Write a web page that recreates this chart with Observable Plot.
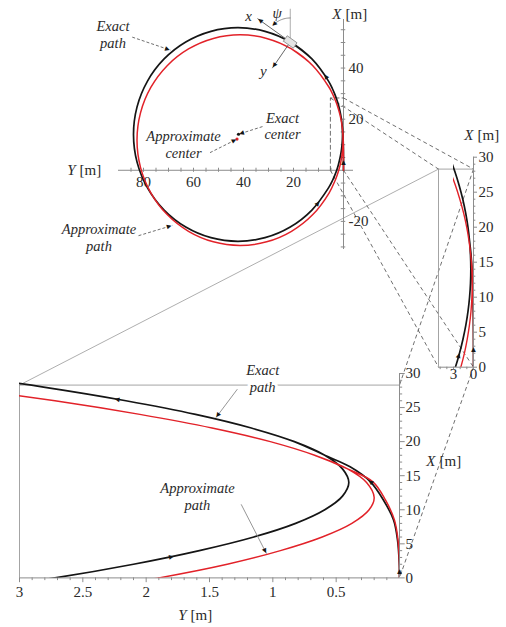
<!DOCTYPE html>
<html>
<head>
<meta charset="utf-8">
<script src="https://cdn.jsdelivr.net/npm/d3@7"></script>
<script src="https://cdn.jsdelivr.net/npm/@observablehq/plot@0.6"></script>
<style>
  body { margin: 0; background: #fff; }
  #fig { position: relative; width: 506px; height: 627px; overflow: hidden; background: #fff; }
  #fig svg { position: absolute; left: 0; top: 0; }
  #fig svg text { font-family: "Liberation Serif", "Times New Roman", "DejaVu Sans", serif; }
</style>
</head>
<body>
<div id="fig"></div>
<script>
// Vehicle trajectories as [Y (m), X (m)] pairs.
// The first lap starts at the origin heading along +X, then the path settles on a circle.
const exactPath = [
  [0, 0], [0.002, 2.2], [0.016, 5.6], [0.047, 8.5], [0.126, 11.4], [0.229, 14.1], [0.39, 16.3], [0.59, 18],
  [0.83, 20], [1.17, 22], [1.61, 24], [2.16, 26], [2.81, 28], [3.58, 30], [4.47, 32], [6.0, 34.9],
  [12.64, 43.56], [21.3, 50.2], [31.38, 54.38], [42.2, 55.8], [53.02, 54.38], [63.1, 50.2], [71.76, 43.56],
  [78.4, 34.9], [82.58, 24.82], [84.0, 14], [82.58, 3.18], [78.4, -6.9], [71.76, -15.56], [63.1, -22.2],
  [53.02, -26.38], [42.2, -27.8], [31.38, -26.38], [21.3, -22.2], [12.64, -15.56], [6.0, -6.9],
  [4.4, -4], [3.5, -2], [2.72, 0], [2.1, 2], [1.58, 4], [1.15, 6], [0.82, 8], [0.59, 10], [0.45, 12],
  [0.40, 14], [0.45, 16], [0.59, 18], [0.83, 20], [1.17, 22], [1.61, 24], [2.16, 26], [2.81, 28],
  [3.58, 30], [4.47, 32], [6.0, 34.9], [12.64, 43.56], [21.3, 50.2]
];
const approxPath = [
  [0, 0], [0.001, 2.2], [0.012, 5.6], [0.04, 8.5], [0.11, 11.4], [0.21, 14.1], [0.41, 16], [0.67, 18],
  [1.02, 20], [1.48, 22], [2.05, 24], [2.72, 26], [3.52, 28], [4.44, 30], [5.72, 32.4], [12.27, 40.93],
  [20.8, 47.48], [30.74, 51.6], [41.4, 53.0], [52.06, 51.6], [62.0, 47.48], [70.53, 40.93], [77.08, 32.4],
  [81.2, 22.46], [82.6, 11.8], [81.2, 1.14], [77.08, -8.8], [70.53, -17.33], [62.0, -23.88], [52.06, -28.0],
  [41.4, -29.4], [30.74, -28.0], [20.8, -23.88], [12.27, -17.33], [5.72, -8.8], [3.35, -4], [2.58, -2],
  [1.9, 0], [1.36, 2], [0.94, 4], [0.61, 6], [0.376, 8], [0.24, 10], [0.2, 11.8], [0.26, 14], [0.41, 16],
  [0.67, 18], [1.02, 20], [1.48, 22], [2.05, 24], [2.72, 26], [3.52, 28], [4.44, 30], [5.72, 32.4],
  [12.27, 40.93], [20.8, 47.48]
];
const exactCenter = [42.0, 14.1];
const approxCenter = [42.6, 12.2];

// Vehicle pose at the end of the exact path: position (Y, X) and heading psi (deg from +X toward +Y)
const vehiclePose = [21.3, 50.2, 55];

// Direction-of-travel markers: [Y, X, heading deg]
const topArrows = [[7.14, 36.77, 33], [10.18, -12.87, 320], [0.005, 3, 0]];
const sideArrows = [[0.003, 2.6, 0], [2.22, 1.7, 343]];
const zoomArrows = [[0.0, 0.9, 0], [0.229, 14.1, 4], [2.23, 26.2, 17], [1.8, 3.1, 345]];

// Enlarged window around the start of the run (m)
const windowY = [0, 5.25];
const windowX = [0, 28.3];
const zoomYLimit = 3;

// Tick labels
const topYTicks = [80, 60, 40, 20];
const topXTicks = [40, 20, -20];
const sideXTicks = [0, 5, 10, 15, 20, 25, 30];
const sideYTicks = [3, 0];
const zoomXTicks = [0, 5, 10, 15, 20, 25, 30];
const zoomYTicks = [3, 2.5, 2, 1.5, 1, 0.5];

// ---------------------------------------------------------------------------
const W = 506, H = 627;
const serif = "Liberation Serif";
const INK = "#151515", RED = "#e22229", AXIS = "#8c8c8c", FRAME = "#9a9a9a", GUIDE = "#4a4a4a", TXT = "#2a2a2a";

const layout = {
  top:  {ml: 118, mr: 153, mt: 19, mb: 378, x: [90, -4], y: [-31, 59]},
  side: {ml: 453, mr: 33, mt: 156.7, mb: 260.3, x: [3, 0], y: [0, 30]},
  zoom: {ml: 19, mr: 107, mt: 373, mb: 49.6, x: [3, 0], y: [0, 30]}
};

function scalesOf(p) {
  return {
    sx: Plot.scale({x: {domain: p.x, range: [p.ml, W - p.mr]}}),
    sy: Plot.scale({y: {domain: p.y, range: [H - p.mb, p.mt]}})
  };
}
const rows = (path) => path.map(([Y, X]) => ({Y, X}));

// Filled arrowheads for travel direction
function dirHeads(list, p) {
  const {sx, sy} = scalesOf(p);
  return list.map(([Y, X, h]) => {
    const r = h * Math.PI / 180, e = 0.01;
    const dx = sx.apply(Y + e * Math.sin(r)) - sx.apply(Y);
    const dy = sy.apply(X + e * Math.cos(r)) - sy.apply(X);
    return {Y, X, rot: Math.atan2(dx, -dy) * 180 / Math.PI};
  });
}
// Arrowhead placed just behind the tip of a leader line
function tipHead(from, to, p, back = 3) {
  const {sx, sy} = scalesOf(p);
  const x1 = sx.apply(from[0]), y1 = sy.apply(from[1]);
  const x2 = sx.apply(to[0]), y2 = sy.apply(to[1]);
  const len = Math.hypot(x2 - x1, y2 - y1);
  const ux = (x2 - x1) / len, uy = (y2 - y1) / len;
  return {Y: sx.invert(x2 - ux * back), X: sy.invert(y2 - uy * back), rot: Math.atan2(ux, -uy) * 180 / Math.PI};
}
const headMark = (data, fill = INK, size = 8) =>
  Plot.text(data, {x: "Y", y: "X", text: () => "\u25B2", rotate: "rot", fontSize: size,
    fontFamily: "DejaVu Sans", fill, lineAnchor: "middle"});

// Axis title: italic variable letter, a small gap at the anchor, then the unit
function axisTitle(letter, at) {
  const base = {x: () => at[0], y: () => at[1], fontSize: 15, fontFamily: serif, fill: TXT};
  return [
    Plot.text([0], {...base, text: () => letter, fontStyle: "italic", textAnchor: "end", dx: -2}),
    Plot.text([0], {...base, text: () => "[m]", textAnchor: "start", dx: 2})
  ];
}
function note(text, at, opts = {}) {
  return Plot.text([0], {x: () => at[0], y: () => at[1], text: () => text, fontSize: 14.5,
    fontFamily: serif, fontStyle: "italic", fill: TXT, lineHeight: 1.15, lineAnchor: "middle", ...opts});
}
const tickText = (data, opts) => Plot.text(data, {text: d => String(d), fontSize: 15, fontFamily: serif, fill: TXT, ...opts});

const fig = document.getElementById("fig");
function mount(p, marks) {
  const svg = Plot.plot({
    width: W, height: H,
    marginLeft: p.ml, marginRight: p.mr, marginTop: p.mt, marginBottom: p.mb,
    x: {domain: p.x, axis: null}, y: {domain: p.y, axis: null},
    style: {background: "transparent", overflow: "visible"},
    marks
  });
  fig.appendChild(svg);
  return svg;
}

// ---------------- Full circular run ----------------
const T = layout.top;
{
  const [vY, vX, psiDeg] = vehiclePose;
  const psi = psiDeg * Math.PI / 180;
  const u = [Math.sin(psi), Math.cos(psi)];      // body x axis
  const v = [Math.cos(psi), -Math.sin(psi)];     // body y axis
  const at = (a, b) => [vY + a * u[0] + b * v[0], vX + a * u[1] + b * v[1]];
  const body = [at(2.4, 1.3), at(2.4, -1.3), at(-2.4, -1.3), at(-2.4, 1.3), at(2.4, 1.3)];
  const xTip = at(16, 0), yTip = at(0, 12.5);
  const arc = d3.range(0, psiDeg - 7, 3).map(a => [vY + 9.6 * Math.sin(a * Math.PI / 180), vX + 9.4 * Math.cos(a * Math.PI / 180)]);
  const arcEnd = arc[arc.length - 1];
  const arcHead = tipHead(arc[arc.length - 2], arcEnd, T, 1);

  const leaders = [
    {from: [84.5, 52.1], to: [69.2, 47.0]},
    {from: [53.4, 6.9], to: approxCenter},
    {from: [32.4, 17.1], to: exactCenter},
    {from: [82, -25.6], to: [68.5, -21.6]}
  ];
  const minor = d3.range(-30, 91, 5).filter(d => d !== 0);

  mount(T, [
    // crossing axes through the origin
    Plot.ruleY([0], {x1: 90, x2: -4, stroke: AXIS, strokeWidth: 1}),
    Plot.ruleX([0], {y1: -31, y2: 59, stroke: AXIS, strokeWidth: 1}),
    Plot.ruleX(minor.filter(d => d > -4 && d < 90), {x: d => d, y1: -0.8, y2: 0.8, stroke: AXIS}),
    Plot.ruleY(minor.filter(d => d > -31 && d < 59), {y: d => d, x1: 0.9, x2: -0.9, stroke: AXIS}),
    tickText(topYTicks, {x: d => d, y: 0, dy: 12}),
    tickText(topXTicks, {x: 0, y: d => d, dx: 5, textAnchor: "start"}),
    ...axisTitle("Y", [106.4, 0]),
    ...axisTitle("X", [0, 61]),

    // enlarged window outline
    Plot.line([[windowY[1], windowX[0]], [windowY[1], windowX[1]], [windowY[0], windowX[1]]],
      {x: d => d[0], y: d => d[1], stroke: GUIDE, strokeWidth: 0.8, strokeDasharray: "4,3"}),

    // paths
    Plot.line(rows(exactPath), {x: "Y", y: "X", curve: "catmull-rom", stroke: INK, strokeWidth: 1.7}),
    Plot.line(rows(approxPath), {x: "Y", y: "X", curve: "catmull-rom", stroke: RED, strokeWidth: 1.5}),
    headMark(dirHeads(topArrows, T)),

    // centres
    Plot.link(leaders, {x1: d => d.from[0], y1: d => d.from[1], x2: d => d.to[0], y2: d => d.to[1],
      stroke: GUIDE, strokeWidth: 0.8, strokeDasharray: "3,2"}),
    Plot.dot([exactCenter], {x: d => d[0], y: d => d[1], r: 1.6, fill: INK}),
    Plot.dot([approxCenter], {x: d => d[0], y: d => d[1], r: 1.6, fill: RED}),
    headMark(leaders.map(d => tipHead(d.from, d.to, T, 3))),

    // vehicle with body axes
    Plot.link([[vY, vX, vY, vX + 13]], {x1: d => d[0], y1: d => d[1], x2: d => d[2], y2: d => d[3], stroke: "#999", strokeWidth: 0.8}),
    Plot.link([[vY, vX, xTip[0], xTip[1]], [vY, vX, yTip[0], yTip[1]]],
      {x1: d => d[0], y1: d => d[1], x2: d => d[2], y2: d => d[3], stroke: "#555", strokeWidth: 0.9}),
    Plot.line(arc, {x: d => d[0], y: d => d[1], stroke: "#777", strokeWidth: 0.8}),
    Plot.line(body, {x: d => d[0], y: d => d[1], stroke: "#8a8a8a", fill: "#e4e4e4", strokeWidth: 0.9}),
    headMark([tipHead([vY, vX], xTip, T, 3), tipHead([vY, vX], yTip, T, 3), arcHead]),
    Plot.text([0], {x: () => xTip[0], y: () => xTip[1], dx: -9, dy: -2, text: () => "x", fontStyle: "italic", fontSize: 15, fontFamily: serif, fill: TXT}),
    Plot.text([0], {x: () => yTip[0], y: () => yTip[1], dx: -9, dy: 3, text: () => "y", fontStyle: "italic", fontSize: 15, fontFamily: serif, fill: TXT}),
    Plot.text([0], {x: () => arcEnd[0], y: () => arcEnd[1], dx: 4, dy: -12, text: () => "\u03C8", fontStyle: "italic", fontSize: 15, fontFamily: serif, fill: TXT}),

    note("Exact\npath", [92.2, 53.2]),
    note("Approximate\ncenter", [64, 10.3]),
    note("Exact\ncenter", [24.4, 17.4]),
    note("Approximate\npath", [97.8, -26.3])
  ]);
}

// ---------------- Narrow window at true proportions ----------------
const S = layout.side;
{
  mount(S, [
    Plot.ruleY([windowX[1]], {x1: windowY[1], x2: 0, stroke: FRAME, strokeWidth: 0.9}),
    Plot.ruleX([windowY[1]], {y1: 0, y2: windowX[1], stroke: FRAME, strokeWidth: 0.9}),
    Plot.ruleY([0], {x1: windowY[1], x2: 0, stroke: AXIS, strokeWidth: 1}),
    Plot.ruleX([0], {y1: 0, y2: 30, stroke: AXIS, strokeWidth: 1}),
    Plot.ruleY(d3.range(0, 31, 1), {y: d => d, x1: 0, x2: d => d % 5 ? -0.35 : -0.6, stroke: AXIS}),
    Plot.ruleX(d3.range(0, 6, 1), {x: d => d, y1: 0, y2: -0.35, stroke: AXIS}),
    tickText(sideXTicks, {x: 0, y: d => d, dx: 5, textAnchor: "start"}),
    tickText(sideYTicks, {x: d => d, y: 0, dy: 7}),
    ...axisTitle("X", [-0.3, 33.2]),

    Plot.line(rows(exactPath).filter(d => d.Y <= 6), {x: "Y", y: "X", curve: "catmull-rom", stroke: INK, strokeWidth: 1.7, clip: true}),
    Plot.line(rows(approxPath).filter(d => d.Y <= 6), {x: "Y", y: "X", curve: "catmull-rom", stroke: RED, strokeWidth: 1.4, clip: true}),
    headMark(dirHeads(sideArrows, S))
  ]);
}

// ---------------- Stretched view of the first metres ----------------
const Z = layout.zoom;
{
  const leaders = [
    {from: [1.28, 27.7], to: [1.45, 23.5]},
    {from: [1.25, 10.8], to: [1.05, 3.55]}
  ];
  mount(Z, [
    Plot.ruleY([windowX[1]], {x1: zoomYLimit, x2: 0, stroke: FRAME, strokeWidth: 0.9}),
    Plot.ruleX([zoomYLimit], {y1: 0, y2: windowX[1], stroke: FRAME, strokeWidth: 0.9}),
    Plot.ruleY([0], {x1: zoomYLimit, x2: 0, stroke: AXIS, strokeWidth: 1}),
    Plot.ruleX([0], {y1: 0, y2: 30, stroke: AXIS, strokeWidth: 1}),
    Plot.ruleX(d3.range(1, 31).map(d => d / 10), {x: d => d, y1: 0, y2: d => Math.round(d * 10) % 5 ? -0.4 : -0.7, stroke: AXIS}),
    Plot.ruleY(d3.range(0, 31, 1), {y: d => d, x1: 0, x2: d => d % 5 ? -0.025 : -0.045, stroke: AXIS}),
    tickText(zoomYTicks, {x: d => d, y: 0, dy: 14}),
    tickText(zoomXTicks, {x: 0, y: d => d, dx: 6, textAnchor: "start"}),
    ...axisTitle("Y", [1.666, -5.5]),
    ...axisTitle("X", [-0.3, 17.2]),

    Plot.line(rows(exactPath).filter(d => d.Y <= 6), {x: "Y", y: "X", curve: "catmull-rom", stroke: INK, strokeWidth: 1.7, clip: true}),
    Plot.line(rows(approxPath).filter(d => d.Y <= 6), {x: "Y", y: "X", curve: "catmull-rom", stroke: RED, strokeWidth: 1.5, clip: true}),
    headMark(dirHeads(zoomArrows, Z)),

    Plot.link(leaders, {x1: d => d.from[0], y1: d => d.from[1], x2: d => d.to[0], y2: d => d.to[1], stroke: "#8a8a8a", strokeWidth: 0.9}),
    headMark(leaders.map(d => tipHead(d.from, d.to, Z, 3))),
    note("Exact\npath", [1.08, 29.3], {stroke: "white", strokeWidth: 6, paintOrder: "stroke"}),
    note("Approximate\npath", [1.595, 11.95])
  ]);
}

// ---------------- Guide lines linking the three views ----------------
{
  const t = scalesOf(T), s = scalesOf(S), z = scalesOf(Z);
  const px = (sc, Y, X) => [sc.sx.apply(Y), sc.sy.apply(X)];
  const seg = (a, b) => ({x1: a[0], y1: a[1], x2: b[0], y2: b[1]});
  const [y0, y1] = windowY, [x0, x1] = windowX;
  const dashed = [
    seg(px(t, y0, x1), px(s, y0, x1)),
    seg(px(t, y1, x1), px(s, y1, x1)),
    seg(px(t, y0, x0), px(s, y0, x0)),
    seg(px(t, y1, x0), px(s, y1, x0)),
    seg(px(s, y0, x1), px(z, y0, x1)),
    seg(px(s, y0, x0), px(z, y0, x0))
  ];
  const solid = [seg(px(s, y1, x1), px(z, zoomYLimit, x1))];
  const svg = Plot.plot({
    width: W, height: H, margin: 0,
    x: {type: "identity", axis: null}, y: {type: "identity", axis: null},
    style: {background: "transparent"},
    marks: [
      Plot.link(dashed, {x1: "x1", y1: "y1", x2: "x2", y2: "y2", stroke: GUIDE, strokeWidth: 0.8, strokeDasharray: "4,3"}),
      Plot.link(solid, {x1: "x1", y1: "y1", x2: "x2", y2: "y2", stroke: "#999", strokeWidth: 0.8})
    ]
  });
  fig.insertBefore(svg, fig.firstChild);
}
</script>
</body>
</html>
